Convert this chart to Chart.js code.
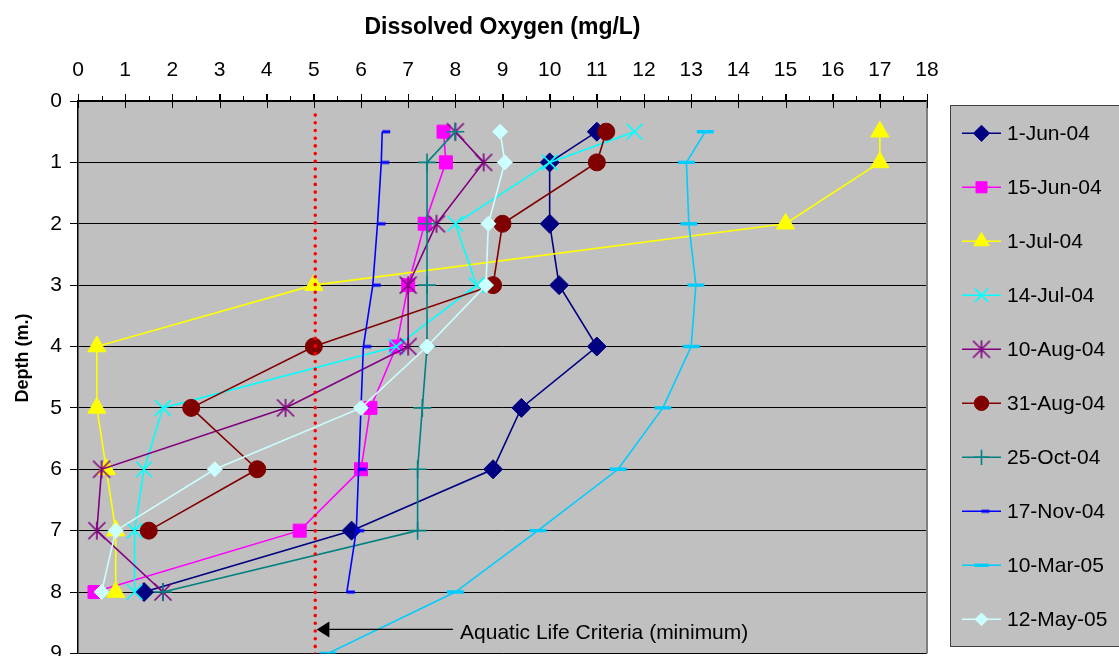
<!DOCTYPE html>
<html>
<head>
<meta charset="utf-8">
<script src="https://cdn.jsdelivr.net/npm/chart.js@4/dist/chart.umd.min.js"></script>
<style>
  html, body { margin: 0; padding: 0; background: #fff; overflow: hidden; }
</style>
</head>
<body>
<canvas id="chart" width="1119" height="666"></canvas>
<script>
// depth (m) of each reading
const depths = [0.5, 1, 2, 3, 4, 5, 6, 7, 8];
const depthsAug31 = [0.5, 1, 2, 3, 4, 5, 6, 7];
const depthsMar10 = [0.5, 1, 2, 3, 4, 5, 6, 7, 8, 9];

// dissolved oxygen (mg/L) per sampling date
const jun01 = [11.0, 10.0, 10.0, 10.2, 11.0, 9.4, 8.8, 5.8, 1.4];
const jun15 = [7.75, 7.8, 7.35, 7.0, 6.75, 6.2, 6.0, 4.7, 0.35];
const jul01 = [17.0, 17.0, 15.0, 5.0, 0.4, 0.4, 0.6, 0.8, 0.8];
const jul14 = [11.8, 10.0, 8.0, 8.45, 6.75, 1.8, 1.4, 1.2, 1.2];
const aug10 = [8.0, 8.6, 7.6, 7.0, 7.0, 4.4, 0.5, 0.4, 1.8];
const aug31 = [11.2, 11.0, 9.0, 8.8, 5.0, 2.4, 3.8, 1.5];
const oct25 = [8.0, 7.4, 7.4, 7.4, 7.4, 7.3, 7.2, 7.2, 1.8];
const nov17 = [6.45, 6.43, 6.35, 6.25, 6.05, 6.0, 5.95, 5.9, 5.7];
const mar10 = [13.3, 12.9, 12.95, 13.1, 13.0, 12.4, 11.45, 9.75, 8.0, 5.3];
const may12 = [8.95, 9.05, 8.7, 8.65, 7.4, 6.0, 2.9, 0.8, 0.5];

// aquatic life criteria (minimum) line
const criteriaDO = [5.03, 5.03];
const criteriaDepth = [0.23, 9.3];

const xTicks = [0, 18];
const yTicks = [0, 9];

function pts(xs, ys) {
  return xs.map((v, i) => ({ x: v, y: ys[i] }));
}

// little custom markers
function asterisk(color) {
  const c = document.createElement('canvas');
  c.width = 22; c.height = 22;
  const g = c.getContext('2d');
  g.strokeStyle = color; g.lineWidth = 1.6;
  g.beginPath();
  g.moveTo(11, 2); g.lineTo(11, 20);
  g.moveTo(2.5, 2.5); g.lineTo(19.5, 19.5);
  g.moveTo(19.5, 2.5); g.lineTo(2.5, 19.5);
  g.stroke();
  return c;
}
function shortDash(color) {
  const c = document.createElement('canvas');
  c.width = 20; c.height = 6;
  const g = c.getContext('2d');
  g.fillStyle = color;
  g.fillRect(10, 1.5, 8, 3);
  return c;
}

function series(label, xs, ys, color, style, radius, bw, idx) {
  return {
    label: label,
    data: pts(xs, ys),
    showLine: true,
    borderColor: color,
    backgroundColor: color,
    borderWidth: 1.6,
    pointStyle: style,
    pointRadius: radius,
    pointHoverRadius: radius,
    pointBorderWidth: bw,
    pointBackgroundColor: color,
    pointBorderColor: color,
    order: 20 - idx
  };
}

const datasets = [
  series('1-Jun-04', jun01, depths, '#000080', 'rectRot', 9.5, 1, 0),
  series('15-Jun-04', jun15, depths, '#FF00FF', 'rect', 9.2, 1, 1),
  series('1-Jul-04', jul01, depths, '#FFFF00', 'triangle', 10.5, 1, 2),
  series('14-Jul-04', jul14, depths, '#00FFFF', 'crossRot', 11, 1.6, 3),
  series('10-Aug-04', aug10, depths, '#800080', asterisk('#800080'), 9, 1, 4),
  series('31-Aug-04', aug31, depthsAug31, '#800000', 'circle', 8.5, 1, 5),
  series('25-Oct-04', oct25, depths, '#008080', 'cross', 9, 1.6, 6),
  series('17-Nov-04', nov17, depths, '#0000FF', shortDash('#0000FF'), 4, 1, 7),
  series('10-Mar-05', mar10, depthsMar10, '#00CCFF', 'line', 8.5, 3.4, 8),
  series('12-May-05', may12, depths, '#CCFFFF', 'rectRot', 7.5, 1, 9),
  {
    label: 'criteria',
    data: pts(criteriaDO, criteriaDepth),
    showLine: true,
    borderColor: '#FF0000',
    borderWidth: 3.6,
    borderDash: [0, 7.7],
    borderCapStyle: 'round',
    pointRadius: 0,
    order: -1
  }
];

const plotBg = {
  id: 'plotBg',
  beforeDraw(chart) {
    const { ctx, chartArea: a } = chart;
    ctx.save();
    ctx.fillStyle = '#C0C0C0';
    ctx.fillRect(a.left, a.top, a.right - a.left, a.bottom - a.top);
    ctx.restore();
  },
  afterDraw(chart) {
    const { ctx, chartArea: a } = chart;
    const xs = chart.scales.x, ys = chart.scales.y;
    ctx.save();
    // right border
    ctx.strokeStyle = '#808080';
    ctx.lineWidth = 2;
    ctx.beginPath();
    ctx.moveTo(a.right, a.top); ctx.lineTo(a.right, a.bottom);
    ctx.stroke();
    // tick marks on the top axis: majors cross the line, minors outside
    ctx.strokeStyle = '#000';
    ctx.lineWidth = 1;
    ctx.beginPath();
    for (let v = xTicks[0]; v <= xTicks[1]; v++) {
      const px = Math.round(xs.getPixelForValue(v)) + 0.5;
      ctx.moveTo(px, a.top - 7); ctx.lineTo(px, a.top + 7);
      if (v < xTicks[1]) {
        const pm = Math.round(xs.getPixelForValue(v + 0.5)) + 0.5;
        ctx.moveTo(pm, a.top - 5); ctx.lineTo(pm, a.top);
      }
    }
    ctx.stroke();

    // annotation arrow + text
    const ay = ys.getPixelForValue(8.61);
    const tip = xs.getPixelForValue(5.06);
    const base = xs.getPixelForValue(5.33);
    const end = xs.getPixelForValue(7.95);
    ctx.fillStyle = '#000';
    ctx.beginPath();
    ctx.moveTo(tip, ay); ctx.lineTo(base, ay - 8); ctx.lineTo(base, ay + 8);
    ctx.closePath(); ctx.fill();
    ctx.lineWidth = 1.3;
    ctx.beginPath();
    ctx.moveTo(base, ay); ctx.lineTo(end, ay);
    ctx.stroke();
    ctx.font = '21px "Liberation Sans", Arial, sans-serif';
    ctx.textBaseline = 'middle';
    ctx.textAlign = 'left';
    ctx.fillText('Aquatic Life Criteria (minimum)', xs.getPixelForValue(8.1), ay + 4);

    // y axis title
    ctx.save();
    ctx.translate(23, 358);
    ctx.rotate(-Math.PI / 2);
    ctx.font = 'bold 18px "Liberation Sans", Arial, sans-serif';
    ctx.textAlign = 'center';
    ctx.fillText('Depth (m.)', 0, 0);
    ctx.restore();

    // legend
    const lx = 950, ly = 105, lw = 190, lh = 541;
    ctx.fillStyle = '#C0C0C0';
    ctx.fillRect(lx, ly, lw, lh);
    ctx.strokeStyle = '#404040';
    ctx.lineWidth = 1;
    ctx.strokeRect(lx + 0.5, ly + 0.5, lw, lh);
    ctx.font = '21px "Liberation Sans", Arial, sans-serif';
    ctx.textBaseline = 'middle';
    chart.data.datasets.forEach((ds, i) => {
      if (ds.label === 'criteria') return;
      const y = 133.3 + i * 54.0;
      ctx.strokeStyle = ds.borderColor;
      ctx.lineWidth = 1.6;
      ctx.beginPath();
      ctx.moveTo(962, y); ctx.lineTo(1001, y);
      ctx.stroke();
      ctx.fillStyle = ds.pointBackgroundColor;
      ctx.strokeStyle = ds.pointBorderColor;
      ctx.lineWidth = ds.pointBorderWidth;
      Chart.helpers.drawPoint(ctx, {
        pointStyle: ds.pointStyle,
        radius: ds.pointRadius * 0.85,
        rotation: 0,
        borderWidth: ds.pointBorderWidth
      }, 981.5, y);
      ctx.fillStyle = '#000';
      ctx.fillText(ds.label, 1007, y + 1);
    });
    ctx.restore();
  }
};

new Chart(document.getElementById('chart'), {
  type: 'scatter',
  data: { datasets: datasets },
  options: {
    responsive: false,
    animation: false,
    devicePixelRatio: 1,
    layout: { padding: { left: 0, right: 192, top: 0, bottom: 5 } },
    plugins: {
      legend: { display: false },
      tooltip: { enabled: false }
    },
    scales: {
      x: {
        type: 'linear',
        position: 'top',
        min: xTicks[0],
        max: xTicks[1],
        ticks: {
          stepSize: 1,
          color: '#000',
          padding: 11,
          font: { family: '"Liberation Sans", Arial, sans-serif', size: 21 }
        },
        grid: { drawOnChartArea: false, drawTicks: true, tickLength: 7, color: '#000' },
        border: { display: true, color: '#000', width: 1.5 },
        title: {
          display: true,
          text: 'Dissolved Oxygen (mg/L)',
          color: '#000',
          padding: { top: 14, bottom: 0 },
          font: { family: '"Liberation Sans", Arial, sans-serif', size: 23, weight: 'bold' }
        },
        afterFit(s) { s.height = 101; s.paddingLeft = 0; s.paddingRight = 0; }
      },
      y: {
        type: 'linear',
        reverse: true,
        min: yTicks[0],
        max: yTicks[1],
        ticks: {
          stepSize: 1,
          color: '#000',
          padding: 8,
          font: { family: '"Liberation Sans", Arial, sans-serif', size: 21 }
        },
        grid: { color: '#000', lineWidth: 1, tickLength: 8, drawTicks: true },
        border: { display: true, color: '#000', width: 1.5 },
        afterFit(s) { s.width = 78; s.paddingTop = 0; s.paddingBottom = 0; }
      }
    }
  },
  plugins: [plotBg]
});
</script>
</body>
</html>
